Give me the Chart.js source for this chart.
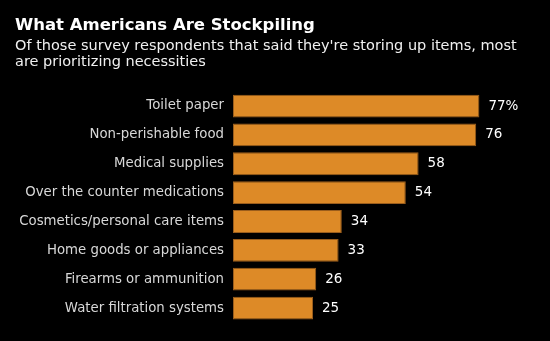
<!DOCTYPE html>
<html>
<head>
<meta charset="utf-8">
<script src="https://cdn.jsdelivr.net/npm/chart.js@4/dist/chart.umd.min.js"></script>
<style>
  html, body { margin: 0; padding: 0; background: #000; }
  #wrap { width: 550px; height: 341px; position: relative; }
</style>
</head>
<body>
<div id="wrap"><canvas id="chart" width="550" height="341"></canvas></div>
<script>
// Survey items, share of respondents stockpiling each (%)
const categories = [
  'Toilet paper',
  'Non-perishable food',
  'Medical supplies',
  'Over the counter medications',
  'Cosmetics/personal care items',
  'Home goods or appliances',
  'Firearms or ammunition',
  'Water filtration systems'
];
const shares = [77, 76, 58, 54, 34, 33, 26, 25];

const titleText = 'What Americans Are Stockpiling';
const subtitleLines = [
  "Of those survey respondents that said they're storing up items, most",
  'are prioritizing necessities'
];

// Headline and dek drawn at the top of the canvas
const headerPlugin = {
  id: 'header',
  afterDraw(chart) {
    const ctx = chart.ctx;
    ctx.save();
    ctx.textAlign = 'left';
    ctx.textBaseline = 'alphabetic';
    ctx.fillStyle = '#ffffff';
    ctx.font = 'bold 16.5px "DejaVu Sans"';
    ctx.fillText(titleText, 15, 29.5);
    ctx.fillStyle = '#f0f0f0';
    ctx.font = '14.5px "DejaVu Sans"';
    subtitleLines.forEach((line, i) => ctx.fillText(line, 15, 49.5 + i * 16));
    ctx.restore();
  }
};

// Value written just past the end of each bar
const valueLabels = {
  id: 'valueLabels',
  afterDatasetsDraw(chart) {
    const ctx = chart.ctx;
    const meta = chart.getDatasetMeta(0);
    ctx.save();
    ctx.fillStyle = '#ffffff';
    ctx.font = '13.5px "DejaVu Sans"';
    ctx.textAlign = 'left';
    ctx.textBaseline = 'middle';
    meta.data.forEach((bar, i) => {
      const v = chart.data.datasets[0].data[i];
      ctx.fillText(v + (i === 0 ? '%' : ''), bar.x + 9, bar.y);
    });
    ctx.restore();
  }
};

new Chart(document.getElementById('chart'), {
  type: 'bar',
  data: {
    labels: categories,
    datasets: [{
      data: shares,
      backgroundColor: '#dd8a27',
      borderColor: '#9a5d1c',
      borderWidth: 1,
      borderSkipped: false,
      barPercentage: 0.79,
      categoryPercentage: 1
    }]
  },
  options: {
    indexAxis: 'y',
    responsive: false,
    animation: false,
    devicePixelRatio: 1,
    layout: { padding: { top: 91.6, bottom: 18.5, left: 0, right: 29 } },
    plugins: {
      legend: { display: false },
      tooltip: { enabled: false },
      title: { display: false }
    },
    scales: {
      x: {
        display: false,
        min: 0,
        max: 90
      },
      y: {
        afterFit(scale) { scale.width = 233; },
        grid: { display: false, drawTicks: false },
        border: { display: false },
        ticks: {
          color: '#d8d8d8',
          padding: 9,
          font: { family: '"DejaVu Sans"', size: 13.3 }
        }
      }
    }
  },
  plugins: [headerPlugin, valueLabels]
});
</script>
</body>
</html>
